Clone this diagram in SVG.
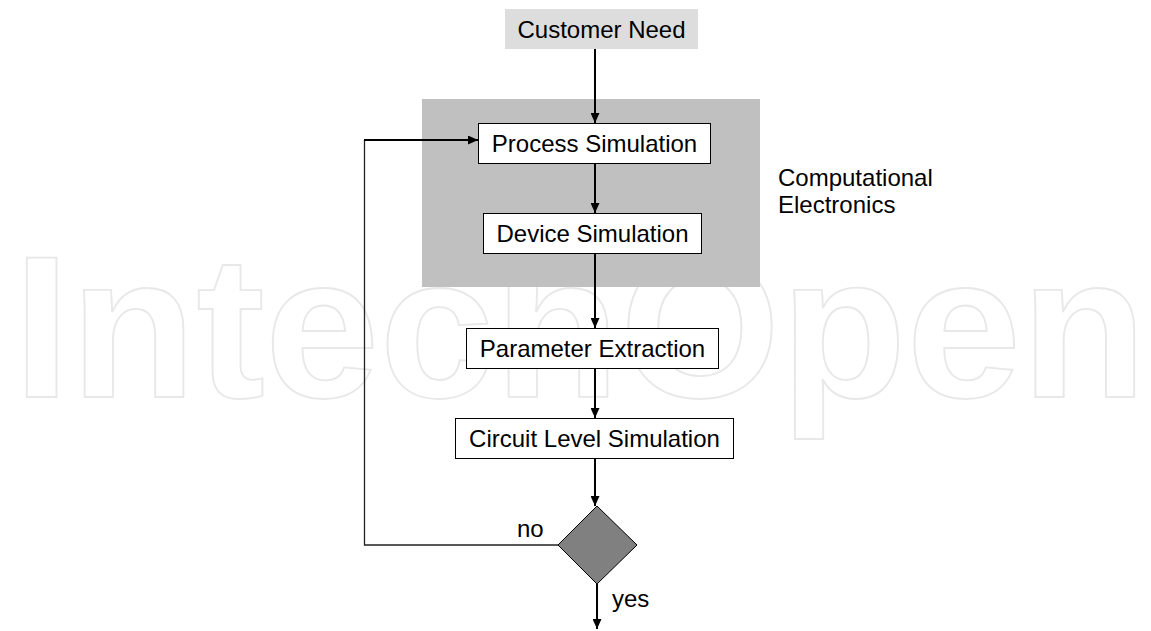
<svg xmlns="http://www.w3.org/2000/svg" width="1151" height="631" viewBox="0 0 1151 631">
  <style>
    .lbl { font-family: "Liberation Sans", Arial, sans-serif; font-size: 24px; fill: #000; }
    .box { fill: #fff; stroke: #000; stroke-width: 1; }
    .conn { stroke: #000; stroke-width: 2; fill: none; }
    .thin { stroke: #222; stroke-width: 1.3; fill: none; }
    .wm { font-family: "Liberation Sans", Arial, sans-serif; font-size: 202px; font-weight: bold; fill: none; stroke: #e8e8e8; stroke-width: 1.8; }
  </style>
  <defs>
    <marker id="arr" markerUnits="userSpaceOnUse" markerWidth="10" markerHeight="9" refX="10" refY="4.5" orient="auto">
      <path d="M0,0 L10,4.5 L0,9 z" fill="#000"/>
    </marker>
  </defs>
  <rect width="1151" height="631" fill="#fff"/>
  <text class="wm" x="13" y="397" textLength="1134" lengthAdjust="spacingAndGlyphs">IntechOpen</text>

  <g id="computational-electronics">
    <rect x="422" y="99" width="338" height="188" fill="#c0c0c0"/>
    <text class="lbl" x="778" y="186">Computational</text>
    <text class="lbl" x="778" y="213">Electronics</text>
  </g>

  <g id="connectors">
    <line class="conn" x1="595" y1="49" x2="595" y2="123" marker-end="url(#arr)"/>
    <line class="conn" x1="595" y1="164" x2="595" y2="213" marker-end="url(#arr)"/>
    <line class="conn" x1="595" y1="254" x2="595" y2="328" marker-end="url(#arr)"/>
    <line class="conn" x1="595" y1="369" x2="595" y2="418" marker-end="url(#arr)"/>
    <line class="conn" x1="595" y1="459" x2="595" y2="506" marker-end="url(#arr)"/>
    <line class="conn" x1="597" y1="584" x2="597" y2="629" marker-end="url(#arr)"/>
    <path class="thin" d="M558,545 H364.5 V140"/>
    <line class="conn" x1="364" y1="140" x2="478" y2="140" marker-end="url(#arr)"/>
    <text class="lbl" x="517" y="537">no</text>
    <text class="lbl" x="612" y="607">yes</text>
  </g>

  <g id="customer-need">
    <rect x="505" y="9" width="193" height="40" fill="#dddddd"/>
    <text class="lbl" x="601.5" y="38" text-anchor="middle">Customer Need</text>
  </g>
  <g id="process-simulation">
    <rect class="box" x="478.5" y="123.5" width="232" height="40"/>
    <text class="lbl" x="594.5" y="152" text-anchor="middle">Process Simulation</text>
  </g>
  <g id="device-simulation">
    <rect class="box" x="483.5" y="213.5" width="218" height="40"/>
    <text class="lbl" x="592.5" y="242" text-anchor="middle">Device Simulation</text>
  </g>
  <g id="parameter-extraction">
    <rect class="box" x="466.5" y="328.5" width="252" height="40"/>
    <text class="lbl" x="592.5" y="357" text-anchor="middle">Parameter Extraction</text>
  </g>
  <g id="circuit-level-simulation">
    <rect class="box" x="455.5" y="418.5" width="278" height="40"/>
    <text class="lbl" x="594.5" y="447" text-anchor="middle">Circuit Level Simulation</text>
  </g>
  <g id="decision">
    <polygon points="597,506 637,545 597,584 558,545" fill="#808080" stroke="#000" stroke-width="1"/>
  </g>
</svg>
